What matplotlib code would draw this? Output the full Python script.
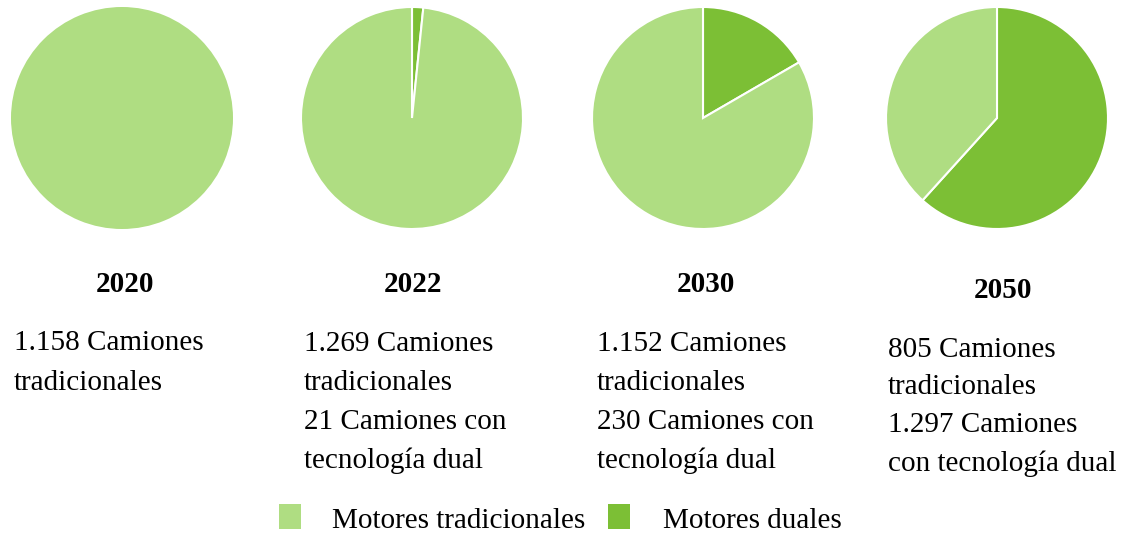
import matplotlib.pyplot as plt
from matplotlib.patches import Rectangle

W, H = 1121, 535

years = ['2020', '2022', '2030', '2050']
traditional = [1158, 1269, 1152, 805]
dual = [0, 21, 230, 1297]
captions = [
    ['1.158 Camiones', 'tradicionales'],
    ['1.269 Camiones', 'tradicionales', '21 Camiones con', 'tecnología dual'],
    ['1.152 Camiones', 'tradicionales', '230 Camiones con', 'tecnología dual'],
    ['805 Camiones', 'tradicionales', '1.297 Camiones', 'con tecnología dual'],
]
legend_labels = ['Motores tradicionales', 'Motores duales']

col_trad = '#afdd82'
col_dual = '#7cbf35'

plt.rcParams['font.family'] = ['Liberation Serif', 'DejaVu Serif']

fig = plt.figure(figsize=(W / 100, H / 100), dpi=100)

# pie centres / radius in pixels
centers = [(122, 118), (412, 118), (703, 118), (997, 118)]
radius = 111
title_pos = [(125, 285), (413, 285), (706, 285), (1003, 291)]
text_x = [14, 304, 597, 888]
text_y = [[343, 383], [344, 383, 422, 461], [344, 383, 422, 461], [350, 387, 425, 464]]


def fx(x):
    return x / W


def fy(y):
    return 1 - y / H


for i in range(4):
    cx, cy = centers[i]
    ax = fig.add_axes([fx(cx - radius), fy(cy + radius), 2 * radius / W, 2 * radius / H])
    vals = [dual[i], traditional[i]]
    cols = [col_dual, col_trad]
    keep = [k for k in range(2) if vals[k] > 0]
    ax.pie([vals[k] for k in keep], colors=[cols[k] for k in keep],
           startangle=90, counterclock=False, radius=1,
           wedgeprops=dict(edgecolor='white', linewidth=1.5 if len(keep) > 1 else 0))
    ax.set_xlim(-1, 1)
    ax.set_ylim(-1, 1)
    ax.set_aspect('auto')
    ax.axis('off')

    tx, ty = title_pos[i]
    fig.text(fx(tx), fy(ty), years[i], ha='center', va='center',
             fontsize=21, fontweight='bold')
    for line, y in zip(captions[i], text_y[i]):
        fig.text(fx(text_x[i]), fy(y), line, ha='left', va='center', fontsize=21)

# legend
for x0, col, lx, lab in [(279, col_trad, 332, legend_labels[0]),
                         (608, col_dual, 663, legend_labels[1])]:
    fig.patches.append(Rectangle((fx(x0), fy(529)), 22 / W, 25 / H,
                                 transform=fig.transFigure, facecolor=col,
                                 edgecolor='none'))
    fig.text(fx(lx), fy(521), lab, ha='left', va='center', fontsize=21)

fig.savefig('out.png', dpi=100)
